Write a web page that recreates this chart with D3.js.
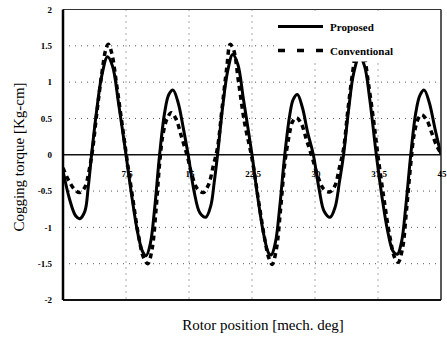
<!DOCTYPE html>
<html>
<head>
<meta charset="utf-8">
<script src="https://cdn.jsdelivr.net/npm/d3@7"></script>
<style>
  body { margin: 0; background: #fff; }
  svg { display: block; }
</style>
</head>
<body>
<script>
// values
var yTicks = [2, 1.5, 1, 0.5, 0, -0.5, -1, -1.5, -2];
var xTicks = [7.5, 15, 22.5, 30, 37.5, 45];
var xTickLabels = ["7.5", "15", "22.5", "30", "37.5", "45"];

var proposedAngle = [0, 0.8, 1.5, 2.0, 2.6, 3.0, 3.4, 4.0, 4.6, 5.3, 5.9, 6.6, 7.5, 8.2, 8.9, 9.5, 9.9, 10.4, 10.9, 11.5,
  12.1, 12.6, 13.1, 13.7, 14.3, 14.9, 15.6, 16.3, 17.0, 17.6, 18.0, 18.4, 19.0, 19.6, 20.2, 20.8, 21.5, 22.5,
  23.2, 23.9, 24.5, 24.8, 25.3, 25.8, 26.4, 27.0, 27.4, 27.9, 28.5, 29.1, 29.8, 30.5, 31.1, 31.8, 32.4, 32.9,
  33.4, 34.0, 34.6, 35.3, 35.9, 36.5, 37.3, 38.0, 38.7, 39.3, 39.8, 40.3, 40.8, 41.4, 42.0, 42.5, 43.0, 43.6, 44.3, 45.0];
var proposedTorque = [-0.22, -0.62, -0.84, -0.88, -0.78, -0.45, 0.0, 0.6, 1.08, 1.35, 1.22, 0.72, 0.0, -0.58, -1.08, -1.34, -1.39, -1.22, -0.75, 0.0,
  0.58, 0.83, 0.89, 0.72, 0.38, 0.0, -0.5, -0.8, -0.86, -0.7, -0.38, 0.0, 0.65, 1.15, 1.38, 1.25, 0.75, 0.0,
  -0.6, -1.1, -1.36, -1.38, -1.2, -0.72, 0.0, 0.55, 0.76, 0.83, 0.65, 0.32, 0.0, -0.48, -0.78, -0.86, -0.72, -0.38,
  0.0, 0.62, 1.12, 1.36, 1.22, 0.78, 0.0, -0.6, -1.08, -1.33, -1.37, -1.2, -0.72, 0.0, 0.58, 0.82, 0.89, 0.72, 0.35, 0.0];

var conventionalAngle = [0, 0.7, 1.4, 2.0, 2.6, 3.1, 3.5, 4.0, 4.6, 5.1, 5.4, 5.8, 6.4, 7.0, 7.6, 8.3, 9.0, 9.6, 10.1, 10.6,
  11.1, 11.5, 11.9, 12.4, 12.9, 13.5, 14.1, 14.8, 15.4, 16.0, 16.7, 17.3, 17.9, 18.4, 18.9, 19.5, 19.9, 20.3,
  20.9, 21.6, 22.5, 23.3, 24.0, 24.5, 24.9, 25.4, 25.9, 26.4, 26.9, 27.3, 27.8, 28.4, 29.0, 29.7, 30.4, 31.1,
  31.8, 32.4, 32.9, 33.4, 33.9, 34.5, 35.0, 35.4, 35.8, 36.4, 37.0, 37.5, 38.2, 38.9, 39.5, 39.9, 40.4, 40.9,
  41.4, 41.8, 42.3, 42.7, 43.3, 43.9, 44.5, 45.0];
var conventionalTorque = [-0.18, -0.36, -0.48, -0.52, -0.45, -0.22, 0.05, 0.55, 1.1, 1.45, 1.52, 1.4, 0.95, 0.45, -0.05, -0.6, -1.12, -1.42, -1.5, -1.3,
  -0.72, -0.12, 0.28, 0.5, 0.58, 0.48, 0.25, -0.02, -0.3, -0.47, -0.52, -0.42, -0.15, 0.1, 0.6, 1.2, 1.52, 1.45,
  1.0, 0.45, -0.05, -0.65, -1.15, -1.42, -1.51, -1.3, -0.75, -0.12, 0.25, 0.45, 0.51, 0.42, 0.2, -0.05, -0.32, -0.48,
  -0.51, -0.42, -0.18, 0.08, 0.6, 1.15, 1.48, 1.53, 1.4, 0.95, 0.45, -0.02, -0.6, -1.12, -1.42, -1.48, -1.3, -0.75,
  -0.12, 0.28, 0.5, 0.55, 0.48, 0.3, 0.12, 0.02];

var width = 447, height = 341,
    margin = {top: 9.5, right: 6, bottom: 41, left: 63};
var w = width - margin.left - margin.right,
    h = height - margin.top - margin.bottom;

var svg = d3.select("body").append("svg")
    .attr("width", width)
    .attr("height", height);

var g = svg.append("g")
    .attr("transform", "translate(" + margin.left + "," + margin.top + ")");

var x = d3.scaleLinear().domain([0, 45]).range([0, w]);
var y = d3.scaleLinear().domain([-2, 2]).range([h, 0]);

// grid
g.selectAll(".hgrid")
    .data(yTicks.filter(function(d) { return d != 0 && Math.abs(d) != 2; }))
    .enter().append("line")
    .attr("x1", 0).attr("x2", w)
    .attr("y1", function(d) { return y(d); })
    .attr("y2", function(d) { return y(d); })
    .style("stroke", "#555")
    .style("stroke-width", 1)
    .style("stroke-dasharray", "1,5");

g.selectAll(".vgrid")
    .data(xTicks.filter(function(d) { return d != 45; }))
    .enter().append("line")
    .attr("y1", 0).attr("y2", h)
    .attr("x1", function(d) { return x(d); })
    .attr("x2", function(d) { return x(d); })
    .style("stroke", "#555")
    .style("stroke-width", 1)
    .style("stroke-dasharray", "1,5");

// zero line
g.append("line")
    .attr("x1", 0).attr("x2", w)
    .attr("y1", y(0)).attr("y2", y(0))
    .style("stroke", "#111")
    .style("stroke-width", 1.5);

g.append("clipPath").attr("id", "clip")
    .append("rect").attr("width", w).attr("height", h);

var line = d3.line()
    .x(function(d) { return x(d[0]); })
    .y(function(d) { return y(d[1]); })
    .curve(d3.curveCatmullRom);

var conv = d3.zip(conventionalAngle, conventionalTorque);
var prop = d3.zip(proposedAngle, proposedTorque);

g.append("path")
    .datum(conv)
    .attr("clip-path", "url(#clip)")
    .attr("d", line)
    .style("fill", "none")
    .style("stroke", "#000")
    .style("stroke-width", 3.5)
    .style("stroke-dasharray", "5,4");

g.append("path")
    .datum(prop)
    .attr("clip-path", "url(#clip)")
    .attr("d", line)
    .style("fill", "none")
    .style("stroke", "#000")
    .style("stroke-width", 3);

// frame
g.append("line").attr("x1", 0).attr("x2", w).attr("y1", 0).attr("y2", 0)
    .style("stroke", "#333").style("stroke-width", 1.2);
g.append("line").attr("x1", w).attr("x2", w).attr("y1", 0).attr("y2", h)
    .style("stroke", "#222").style("stroke-width", 1.5);
g.append("line").attr("x1", 0).attr("x2", w).attr("y1", h).attr("y2", h)
    .style("stroke", "#111").style("stroke-width", 2);
g.append("line").attr("x1", 0).attr("x2", 0).attr("y1", 0).attr("y2", h)
    .style("stroke", "#000").style("stroke-width", 2.5);

// legend
var leg = g.append("g").attr("transform", "translate(212,4)");
leg.append("rect")
    .attr("x", 0).attr("y", 0)
    .attr("width", w - 213).attr("height", 48)
    .style("fill", "#fff");
leg.append("line")
    .attr("x1", 3).attr("x2", 48).attr("y1", 13).attr("y2", 13)
    .style("stroke", "#000").style("stroke-width", 3);
leg.append("line")
    .attr("x1", 3).attr("x2", 48).attr("y1", 37).attr("y2", 37)
    .style("stroke", "#000").style("stroke-width", 3.5)
    .style("stroke-dasharray", "7,12");
leg.append("text")
    .attr("x", 55).attr("y", 17)
    .style("font-family", "Liberation Serif, serif")
    .style("font-size", "11px")
    .style("font-weight", "bold")
    .text("Proposed");
leg.append("text")
    .attr("x", 55).attr("y", 41)
    .style("font-family", "Liberation Serif, serif")
    .style("font-size", "11px")
    .style("font-weight", "bold")
    .text("Conventional");

// y tick labels
g.selectAll(".ylab")
    .data(yTicks)
    .enter().append("text")
    .attr("x", -11)
    .attr("y", function(d) { return y(d); })
    .attr("dy", "0.35em")
    .style("text-anchor", "end")
    .style("font-family", "Liberation Serif, serif")
    .style("font-size", "9px")
    .style("font-weight", "bold")
    .text(function(d) { return d; });

// x tick labels, sitting under the zero line
g.selectAll(".xlab")
    .data(xTicks)
    .enter().append("text")
    .attr("x", function(d) { return x(d) + 1; })
    .attr("y", y(0) + 22)
    .style("text-anchor", "middle")
    .style("font-family", "Liberation Serif, serif")
    .style("font-size", "9px")
    .style("font-weight", "bold")
    .text(function(d, i) { return xTickLabels[i]; });

// axis titles
svg.append("text")
    .attr("x", 263)
    .attr("y", 330)
    .style("text-anchor", "middle")
    .style("font-family", "Liberation Serif, serif")
    .style("font-size", "15px")
    .text("Rotor position [mech. deg]");

svg.append("text")
    .attr("transform", "translate(24,157) rotate(-90)")
    .style("text-anchor", "middle")
    .style("font-family", "Liberation Serif, serif")
    .style("font-size", "15px")
    .text("Cogging torque [Kg-cm]");
</script>
</body>
</html>
